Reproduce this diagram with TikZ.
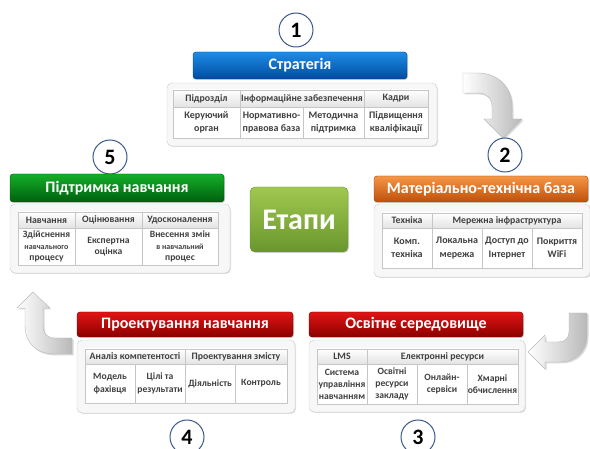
\documentclass[tikz,border=0pt]{standalone}
\usepackage{fontspec}
\setmainfont{Carlito}
\usetikzlibrary{shadows}
\definecolor{StageBlueTop}{RGB}{30,140,230}
\definecolor{StageBlueBot}{RGB}{0,75,160}
\definecolor{StageGreenTop}{RGB}{20,175,40}
\definecolor{StageGreenBot}{RGB}{0,95,15}
\definecolor{StageOrangeTop}{RGB}{245,150,70}
\definecolor{StageOrangeBot}{RGB}{190,80,10}
\definecolor{StageRedTop}{RGB}{225,20,20}
\definecolor{StageRedBot}{RGB}{140,0,0}
\definecolor{EtapyTop}{RGB}{160,200,80}
\definecolor{EtapyBot}{RGB}{105,150,45}
\definecolor{NumBlue}{RGB}{60,90,140}
\newcommand\smalltxt[1]{{\fontsize{8}{10}\selectfont#1}}

\begin{document}
\begin{tikzpicture}[x=1pt,y=-1pt,
bar/.style n args={2}{rectangle,rounded corners=3pt,top color=#1,bottom color=#2,draw=#2!80!black,text=white,font=\bfseries\fontsize{16}{16}\selectfont,drop shadow={opacity=0.35,shadow xshift=1pt,shadow yshift=-1pt}},
panel/.style={rectangle,rounded corners=5pt,draw=gray!40,fill=gray!6,drop shadow={opacity=0.25,shadow xshift=1pt,shadow yshift=-1pt}},
cell/.style={rectangle,draw=gray!45,fill=white,align=center,text=black!75,inner sep=1pt,font=\bfseries\fontsize{10}{13.5}\selectfont},
hcell/.style={cell,top color=white,bottom color=gray!22,font=\bfseries\fontsize{9.8}{11}\selectfont},
num/.style={circle,draw=NumBlue,line width=1pt,fill=white,minimum size=34pt,inner sep=0pt,font=\bfseries\fontsize{22}{22}\selectfont},
etapy/.style={rectangle,rounded corners=5pt,top color=EtapyTop,bottom color=EtapyBot,draw=EtapyBot,text=white,font=\bfseries\fontsize{30}{30}\selectfont,drop shadow={opacity=0.3,shadow xshift=1pt,shadow yshift=-1pt}},
blockarrow/.style={left color=white,right color=gray!55,draw=gray!55,drop shadow={opacity=0.3,shadow xshift=1.5pt,shadow yshift=-1.5pt}}]
\useasboundingbox (0,0) rectangle (590,449);

\path[blockarrow] (463,73) -- (478,73) .. controls (498,73) and (512,87) .. (512,107) -- (512,119) -- (522,119) -- (503,138) -- (484,119) -- (492,119) -- (492,107) .. controls (492,98) and (486,93) .. (478,93) -- (463,93) -- cycle;
\path[blockarrow] (569,313) -- (587,313) -- (587,335) .. controls (587,352) and (575,362) .. (560,362) -- (545,362) -- (545,369) -- (528,352) -- (545,335) -- (545,342) -- (558,342) .. controls (565,342) and (569,338) .. (569,332) -- cycle;
\path[blockarrow] (33,292) -- (50,308) -- (43,308) -- (43,325) .. controls (43,334) and (47,338) .. (55,338) -- (72,338) -- (72,354) -- (55,354) .. controls (36,354) and (25,343) .. (25,325) -- (25,308) -- (17,308) -- cycle;

\node[num] (n1) at (296,30) {1};
\node[bar={StageBlueTop}{StageBlueBot},minimum width=214,minimum height=27] (b1) at (300,65.5) {Стратегія};
\node[panel,minimum width=270,minimum height=63] (p1) at (302,114.5) {};
\foreach \x/\w/\t [count=\i] in %
{206.5/67/Підрозділ,302/124/Інформаційне забезпечення,396/64/Кадри} {
   \node[hcell,minimum width=\w,minimum height=17] (h1\i) at (\x,98.5) {\t};
}
\foreach \x/\w/\t [count=\i] in %
{206.5/67/Керуючий\\орган,271.5/63/Нормативно-\\правова база,333.5/61/Методична\\підтримка,396/64/Підвищення\\кваліфікації} {
   \node[cell,minimum width=\w,minimum height=31] (c1\i) at (\x,122.5) {\t};
}

\node[num] (n2) at (505,155) {2};
\node[bar={StageOrangeTop}{StageOrangeBot},minimum width=214,minimum height=26] (b2) at (481,189) {Матеріально-технічна база};
\node[panel,minimum width=216,minimum height=73] (p2) at (482,240.5) {};
\foreach \x/\w/\t [count=\i] in %
{407/50/Техніка,507/150/Мережна інфраструктура} {
   \node[hcell,minimum width=\w,minimum height=15] (h2\i) at (\x,220.5) {\t};
}
\foreach \x/\w/\t [count=\i] in %
{407/50/Комп.\\техніка,457/50/Локальна\\мережа,507/50/Доступ до\\Інтернет,557/50/Покриття\\WiFi} {
   \node[cell,minimum width=\w,minimum height=40] (c2\i) at (\x,248) {\t};
}

\node[num] (n3) at (418,437) {3};
\node[bar={StageRedTop}{StageRedBot},minimum width=214,minimum height=25] (b3) at (416,324.5) {Освітнє середовище};
\node[panel,minimum width=216,minimum height=72] (p3) at (417,376) {};
\foreach \x/\w/\t [count=\i] in %
{342/50/LMS,442.5/151/Електронні ресурси} {
   \node[hcell,minimum width=\w,minimum height=15] (h3\i) at (\x,356.5) {\t};
}
\foreach \x/\w/\t [count=\i] in %
{342/50/Система\\управління\\навчанням,392/50/Освітні\\ресурси\\закладу,442/50/Онлайн-\\сервіси,492.5/51/Хмарні\\обчислення} {
   \node[cell,font=\bfseries\fontsize{9.6}{12}\selectfont,minimum width=\w,minimum height=40] (c3\i) at (\x,384) {\t};
}

\node[num] (n4) at (187,437) {4};
\node[bar={StageRedTop}{StageRedBot},minimum width=216,minimum height=25] (b4) at (185,324.5) {Проектування навчання};
\node[panel,minimum width=218,minimum height=73] (p4) at (186,376.5) {};
\foreach \x/\w/\t [count=\i] in %
{135/100/Аналіз компетентості,236/102/Проектування змісту} {
   \node[hcell,minimum width=\w,minimum height=15] (h4\i) at (\x,356.5) {\t};
}
\foreach \x/\w/\t [count=\i] in %
{110/50/Модель\\фахівця,160/50/Цілі та\\результати,210/50/Діяльність,261/52/Контроль} {
   \node[cell,font=\bfseries\fontsize{9.6}{13}\selectfont,minimum width=\w,minimum height=39] (c4\i) at (\x,383.5) {\t};
}

\node[num] (n5) at (110,157) {5};
\node[bar={StageGreenTop}{StageGreenBot},minimum width=214,minimum height=28] (b5) at (117,188) {Підтримка навчання};
\node[panel,minimum width=220,minimum height=69] (p5) at (120,238.5) {};
\foreach \x/\w/\t [count=\i] in %
{46.5/57/Навчання,108.5/67/Оцінювання,180/76/Удосконалення} {
   \node[hcell,minimum width=\w,minimum height=16] (h5\i) at (\x,220) {\t};
}
\foreach \x/\w/\t [count=\i] in %
{46.5/57/Здійснення\\\smalltxt{навчального}\\процесу,108.5/67/Експертна\\оцінка,180/76/Внесення змін\\\smalltxt{в навчальний}\\процес} {
   \node[cell,font=\bfseries\fontsize{9.6}{11.5}\selectfont,minimum width=\w,minimum height=37] (c5\i) at (\x,246.5) {\t};
}

\node[etapy,minimum width=98,minimum height=65] (e) at (299,219.5) {Етапи};
\end{tikzpicture}
\end{document}
